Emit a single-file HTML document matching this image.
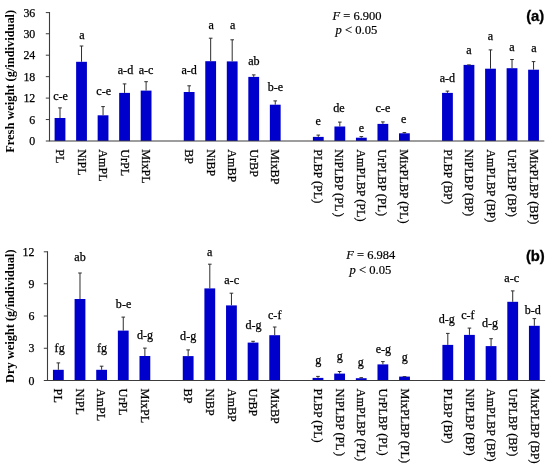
<!DOCTYPE html>
<html><head><meta charset="utf-8"><title>Figure</title>
<style>
html,body{margin:0;padding:0;background:#fff;}
svg{display:block}
.s{font-family:"Liberation Serif",serif;font-size:12.1px;fill:#000;stroke:#000;stroke-width:.25px}
.r{font-size:12.2px}
.k{font-size:11.9px}
.f{font-family:"Liberation Serif",serif;font-size:12.6px;fill:#000;stroke:#000;stroke-width:.2px}
.t{font-family:"Liberation Serif",serif;font-size:12.4px;font-weight:bold;fill:#000}
.g{font-family:"Liberation Sans",sans-serif;font-size:14.8px;font-weight:bold;fill:#000;stroke:#000;stroke-width:.3px}
</style></head><body>
<svg width="550" height="468" viewBox="0 0 550 468">
<rect width="550" height="468" fill="#fff"/>
<g>
<rect x="54.60" y="118.00" width="10.8" height="23.00" fill="#0000cc"/>
<path d="M60.00 118.00V107.90M58.20 107.90H61.80" stroke="#2e2e2e" stroke-width="1" fill="none"/>
<text x="60.60" y="100.00" text-anchor="middle" class="s">c-e</text>
<text transform="translate(56.20 149.20) rotate(90)" class="s r">PL</text>
<rect x="76.12" y="61.80" width="10.8" height="79.20" fill="#0000cc"/>
<path d="M81.53 61.80V46.00M79.73 46.00H83.33" stroke="#2e2e2e" stroke-width="1" fill="none"/>
<text x="81.93" y="38.70" text-anchor="middle" class="s">a</text>
<text transform="translate(77.73 149.20) rotate(90)" class="s r">NiPL</text>
<rect x="97.65" y="115.30" width="10.8" height="25.70" fill="#0000cc"/>
<path d="M103.05 115.30V106.60M101.25 106.60H104.85" stroke="#2e2e2e" stroke-width="1" fill="none"/>
<text x="103.65" y="95.10" text-anchor="middle" class="s">c-e</text>
<text transform="translate(99.25 149.20) rotate(90)" class="s r">AmPL</text>
<rect x="119.17" y="92.90" width="10.8" height="48.10" fill="#0000cc"/>
<path d="M124.57 92.90V83.90M122.77 83.90H126.37" stroke="#2e2e2e" stroke-width="1" fill="none"/>
<text x="125.47" y="74.10" text-anchor="middle" class="s">a-d</text>
<text transform="translate(120.77 149.20) rotate(90)" class="s r">UrPL</text>
<rect x="140.70" y="90.60" width="10.8" height="50.40" fill="#0000cc"/>
<path d="M146.10 90.60V81.70M144.30 81.70H147.90" stroke="#2e2e2e" stroke-width="1" fill="none"/>
<text x="146.10" y="74.10" text-anchor="middle" class="s">a-c</text>
<text transform="translate(142.30 149.20) rotate(90)" class="s r">MixPL</text>
<rect x="183.75" y="92.00" width="10.8" height="49.00" fill="#0000cc"/>
<path d="M189.15 92.00V85.80M187.35 85.80H190.95" stroke="#2e2e2e" stroke-width="1" fill="none"/>
<text x="189.15" y="74.10" text-anchor="middle" class="s">a-d</text>
<text transform="translate(185.35 149.20) rotate(90)" class="s r">BP</text>
<rect x="205.27" y="61.20" width="10.8" height="79.80" fill="#0000cc"/>
<path d="M210.67 61.20V38.20M208.87 38.20H212.47" stroke="#2e2e2e" stroke-width="1" fill="none"/>
<text x="211.07" y="29.00" text-anchor="middle" class="s">a</text>
<text transform="translate(206.87 149.20) rotate(90)" class="s r">NiBP</text>
<rect x="226.80" y="61.40" width="10.8" height="79.60" fill="#0000cc"/>
<path d="M232.20 61.40V39.80M230.40 39.80H234.00" stroke="#2e2e2e" stroke-width="1" fill="none"/>
<text x="232.70" y="29.00" text-anchor="middle" class="s">a</text>
<text transform="translate(228.40 149.20) rotate(90)" class="s r">AmBP</text>
<rect x="248.32" y="76.90" width="10.8" height="64.10" fill="#0000cc"/>
<path d="M253.72 76.90V74.90M251.92 74.90H255.53" stroke="#2e2e2e" stroke-width="1" fill="none"/>
<text x="253.92" y="65.40" text-anchor="middle" class="s">ab</text>
<text transform="translate(249.92 149.20) rotate(90)" class="s r">UrBP</text>
<rect x="269.85" y="104.70" width="10.8" height="36.30" fill="#0000cc"/>
<path d="M275.25 104.70V100.90M273.45 100.90H277.05" stroke="#2e2e2e" stroke-width="1" fill="none"/>
<text x="275.45" y="91.20" text-anchor="middle" class="s">b-e</text>
<text transform="translate(271.45 149.20) rotate(90)" class="s r">MixBP</text>
<rect x="312.90" y="136.90" width="10.8" height="4.10" fill="#0000cc"/>
<path d="M318.30 136.90V135.10M316.50 135.10H320.10" stroke="#2e2e2e" stroke-width="1" fill="none"/>
<text x="318.30" y="125.20" text-anchor="middle" class="s">e</text>
<text transform="translate(313.90 149.20) rotate(90)" class="s r">PLBP (PL)</text>
<rect x="334.43" y="126.50" width="10.8" height="14.50" fill="#0000cc"/>
<path d="M339.82 126.50V122.10M338.02 122.10H341.62" stroke="#2e2e2e" stroke-width="1" fill="none"/>
<text x="338.93" y="112.00" text-anchor="middle" class="s">de</text>
<text transform="translate(335.42 149.20) rotate(90)" class="s r">NiPLBP (PL<tspan dx="1.3">)</tspan></text>
<rect x="355.95" y="137.70" width="10.8" height="3.30" fill="#0000cc"/>
<path d="M361.35 137.70V136.60M359.55 136.60H363.15" stroke="#2e2e2e" stroke-width="1" fill="none"/>
<text x="361.35" y="131.80" text-anchor="middle" class="s">e</text>
<text transform="translate(356.95 149.20) rotate(90)" class="s r">AmPLBP (PL)</text>
<rect x="377.48" y="123.90" width="10.8" height="17.10" fill="#0000cc"/>
<path d="M382.88 123.90V121.90M381.07 121.90H384.68" stroke="#2e2e2e" stroke-width="1" fill="none"/>
<text x="382.88" y="112.00" text-anchor="middle" class="s">c-e</text>
<text transform="translate(378.47 149.20) rotate(90)" class="s r">UrPLBP (PL)</text>
<rect x="399.00" y="133.30" width="10.8" height="7.70" fill="#0000cc"/>
<path d="M404.40 133.30V132.60M402.60 132.60H406.20" stroke="#2e2e2e" stroke-width="1" fill="none"/>
<text x="403.70" y="122.90" text-anchor="middle" class="s">e</text>
<text transform="translate(400.00 149.20) rotate(90)" class="s r">MixPLBP (PL)</text>
<rect x="442.05" y="92.90" width="10.8" height="48.10" fill="#0000cc"/>
<path d="M447.45 92.90V91.10M445.65 91.10H449.25" stroke="#2e2e2e" stroke-width="1" fill="none"/>
<text x="447.45" y="81.70" text-anchor="middle" class="s">a-d</text>
<text transform="translate(443.65 149.20) rotate(90)" class="s r">PLBP (BP)</text>
<rect x="463.57" y="64.90" width="10.8" height="76.10" fill="#0000cc"/>
<path d="M468.97 64.90V64.90M467.17 64.90H470.77" stroke="#2e2e2e" stroke-width="1" fill="none"/>
<text x="468.97" y="54.10" text-anchor="middle" class="s">a</text>
<text transform="translate(465.17 149.20) rotate(90)" class="s r">NiPLBP (BP)</text>
<rect x="485.10" y="68.70" width="10.8" height="72.30" fill="#0000cc"/>
<path d="M490.50 68.70V49.90M488.70 49.90H492.30" stroke="#2e2e2e" stroke-width="1" fill="none"/>
<text x="490.50" y="39.90" text-anchor="middle" class="s">a</text>
<text transform="translate(486.70 149.20) rotate(90)" class="s r">AmPLBP (BP)</text>
<rect x="506.62" y="68.20" width="10.8" height="72.80" fill="#0000cc"/>
<path d="M512.02 68.20V59.50M510.22 59.50H513.82" stroke="#2e2e2e" stroke-width="1" fill="none"/>
<text x="512.02" y="50.90" text-anchor="middle" class="s">a</text>
<text transform="translate(508.22 149.20) rotate(90)" class="s r">UrPLBP (BP)</text>
<rect x="528.15" y="69.70" width="10.8" height="71.30" fill="#0000cc"/>
<path d="M533.55 69.70V61.60M531.75 61.60H535.35" stroke="#2e2e2e" stroke-width="1" fill="none"/>
<text x="533.95" y="51.70" text-anchor="middle" class="s">a</text>
<text transform="translate(529.75 149.20) rotate(90)" class="s r">MixPLBP (BP)</text>
<path d="M49.50 12.10V141.50M49.50 141.00H544.31" stroke="#3c3c3c" stroke-width="1.1" fill="none"/>
<path d="M45.80 141.00H49.50" stroke="#3c3c3c" stroke-width="1"/>
<text x="35.3" y="145.10" text-anchor="end" class="s k">0</text>
<path d="M45.80 119.55H49.50" stroke="#3c3c3c" stroke-width="1"/>
<text x="35.3" y="123.65" text-anchor="end" class="s k">6</text>
<path d="M45.80 98.10H49.50" stroke="#3c3c3c" stroke-width="1"/>
<text x="35.3" y="102.20" text-anchor="end" class="s k">12</text>
<path d="M45.80 76.65H49.50" stroke="#3c3c3c" stroke-width="1"/>
<text x="35.3" y="80.75" text-anchor="end" class="s k">18</text>
<path d="M45.80 55.20H49.50" stroke="#3c3c3c" stroke-width="1"/>
<text x="35.3" y="59.30" text-anchor="end" class="s k">24</text>
<path d="M45.80 33.75H49.50" stroke="#3c3c3c" stroke-width="1"/>
<text x="35.3" y="37.85" text-anchor="end" class="s k">30</text>
<path d="M45.80 12.60H49.50" stroke="#3c3c3c" stroke-width="1"/>
<text x="35.3" y="16.70" text-anchor="end" class="s k">36</text>
<text transform="translate(13.5 81.30) rotate(-90)" text-anchor="middle" class="t">Fresh weight (g/individual)</text>
<text x="526.2" y="21.2" class="g">(a)</text>
<text x="332.6" y="19.9" class="f" style="font-size:12.48px"><tspan font-style="italic">F</tspan> = 6.900</text>
<text x="335.6" y="33.9" class="f"><tspan font-style="italic">p</tspan> &lt; 0.05</text>
</g>
<g>
<rect x="52.95" y="369.80" width="10.8" height="10.70" fill="#0000cc"/>
<path d="M58.35 369.80V362.90M56.55 362.90H60.15" stroke="#2e2e2e" stroke-width="1" fill="none"/>
<text x="59.65" y="351.90" text-anchor="middle" class="s">fg</text>
<text transform="translate(54.15 388.60) rotate(90)" class="s r">PL</text>
<rect x="74.59" y="299.00" width="10.8" height="81.50" fill="#0000cc"/>
<path d="M79.99 299.00V273.00M78.19 273.00H81.79" stroke="#2e2e2e" stroke-width="1" fill="none"/>
<text x="79.99" y="260.80" text-anchor="middle" class="s">ab</text>
<text transform="translate(75.79 388.60) rotate(90)" class="s r">NiPL</text>
<rect x="96.22" y="369.80" width="10.8" height="10.70" fill="#0000cc"/>
<path d="M101.62 369.80V366.20M99.82 366.20H103.42" stroke="#2e2e2e" stroke-width="1" fill="none"/>
<text x="102.02" y="351.90" text-anchor="middle" class="s">fg</text>
<text transform="translate(97.42 388.60) rotate(90)" class="s r">AmPL</text>
<rect x="117.86" y="330.60" width="10.8" height="49.90" fill="#0000cc"/>
<path d="M123.26 330.60V317.10M121.46 317.10H125.06" stroke="#2e2e2e" stroke-width="1" fill="none"/>
<text x="123.56" y="307.90" text-anchor="middle" class="s">b-e</text>
<text transform="translate(119.06 388.60) rotate(90)" class="s r">UrPL</text>
<rect x="139.49" y="356.00" width="10.8" height="24.50" fill="#0000cc"/>
<path d="M144.89 356.00V348.10M143.09 348.10H146.69" stroke="#2e2e2e" stroke-width="1" fill="none"/>
<text x="145.09" y="339.20" text-anchor="middle" class="s">d-g</text>
<text transform="translate(140.69 388.60) rotate(90)" class="s r">MixPL</text>
<rect x="182.77" y="356.10" width="10.8" height="24.40" fill="#0000cc"/>
<path d="M188.17 356.10V349.90M186.37 349.90H189.97" stroke="#2e2e2e" stroke-width="1" fill="none"/>
<text x="188.17" y="339.80" text-anchor="middle" class="s">d-g</text>
<text transform="translate(184.37 388.60) rotate(90)" class="s r">BP</text>
<rect x="204.40" y="288.40" width="10.8" height="92.10" fill="#0000cc"/>
<path d="M209.80 288.40V264.20M208.00 264.20H211.60" stroke="#2e2e2e" stroke-width="1" fill="none"/>
<text x="209.80" y="256.30" text-anchor="middle" class="s">a</text>
<text transform="translate(206.00 388.60) rotate(90)" class="s r">NiBP</text>
<rect x="226.04" y="305.40" width="10.8" height="75.10" fill="#0000cc"/>
<path d="M231.44 305.40V293.20M229.64 293.20H233.24" stroke="#2e2e2e" stroke-width="1" fill="none"/>
<text x="231.64" y="284.00" text-anchor="middle" class="s">a-c</text>
<text transform="translate(227.64 388.60) rotate(90)" class="s r">AmBP</text>
<rect x="247.67" y="342.60" width="10.8" height="37.90" fill="#0000cc"/>
<path d="M253.07 342.60V341.30M251.27 341.30H254.87" stroke="#2e2e2e" stroke-width="1" fill="none"/>
<text x="253.57" y="329.10" text-anchor="middle" class="s">d-g</text>
<text transform="translate(249.27 388.60) rotate(90)" class="s r">UrBP</text>
<rect x="269.31" y="335.20" width="10.8" height="45.30" fill="#0000cc"/>
<path d="M274.71 335.20V327.00M272.91 327.00H276.51" stroke="#2e2e2e" stroke-width="1" fill="none"/>
<text x="274.71" y="318.90" text-anchor="middle" class="s">c-f</text>
<text transform="translate(270.91 388.60) rotate(90)" class="s r">MixBP</text>
<rect x="312.58" y="377.90" width="10.8" height="2.60" fill="#0000cc"/>
<path d="M317.98 377.90V376.40M316.18 376.40H319.78" stroke="#2e2e2e" stroke-width="1" fill="none"/>
<text x="318.18" y="363.70" text-anchor="middle" class="s">g</text>
<text transform="translate(314.18 388.60) rotate(90)" class="s r">PLBP (PL)</text>
<rect x="334.22" y="373.60" width="10.8" height="6.90" fill="#0000cc"/>
<path d="M339.62 373.60V371.50M337.82 371.50H341.42" stroke="#2e2e2e" stroke-width="1" fill="none"/>
<text x="339.82" y="359.60" text-anchor="middle" class="s">g</text>
<text transform="translate(335.82 388.60) rotate(90)" class="s r">NiPLBP (PL<tspan dx="1.3">)</tspan></text>
<rect x="355.85" y="378.20" width="10.8" height="2.30" fill="#0000cc"/>
<path d="M361.25 378.20V377.70M359.45 377.70H363.05" stroke="#2e2e2e" stroke-width="1" fill="none"/>
<text x="360.85" y="365.90" text-anchor="middle" class="s">g</text>
<text transform="translate(357.45 388.60) rotate(90)" class="s r">AmPLBP (PL)</text>
<rect x="377.49" y="364.40" width="10.8" height="16.10" fill="#0000cc"/>
<path d="M382.89 364.40V361.60M381.09 361.60H384.69" stroke="#2e2e2e" stroke-width="1" fill="none"/>
<text x="383.39" y="352.50" text-anchor="middle" class="s">e-g</text>
<text transform="translate(379.09 388.60) rotate(90)" class="s r">UrPLBP (PL)</text>
<rect x="399.13" y="376.60" width="10.8" height="3.90" fill="#0000cc"/>
<path d="M404.53 376.60V376.60M402.73 376.60H406.33" stroke="#2e2e2e" stroke-width="1" fill="none"/>
<text x="404.73" y="360.90" text-anchor="middle" class="s">g</text>
<text transform="translate(400.73 388.60) rotate(90)" class="s r">MixPLBP (PL)</text>
<rect x="442.40" y="344.90" width="10.8" height="35.60" fill="#0000cc"/>
<path d="M447.80 344.90V333.40M446.00 333.40H449.60" stroke="#2e2e2e" stroke-width="1" fill="none"/>
<text x="446.80" y="323.20" text-anchor="middle" class="s">d-g</text>
<text transform="translate(444.00 388.60) rotate(90)" class="s r">PLBP (BP)</text>
<rect x="464.03" y="334.90" width="10.8" height="45.60" fill="#0000cc"/>
<path d="M469.43 334.90V328.10M467.63 328.10H471.23" stroke="#2e2e2e" stroke-width="1" fill="none"/>
<text x="467.93" y="318.90" text-anchor="middle" class="s">c-f</text>
<text transform="translate(465.63 388.60) rotate(90)" class="s r">NiPLBP (BP)</text>
<rect x="485.67" y="346.10" width="10.8" height="34.40" fill="#0000cc"/>
<path d="M491.07 346.10V338.70M489.27 338.70H492.87" stroke="#2e2e2e" stroke-width="1" fill="none"/>
<text x="489.97" y="327.00" text-anchor="middle" class="s">d-g</text>
<text transform="translate(487.27 388.60) rotate(90)" class="s r">AmPLBP (BP)</text>
<rect x="507.31" y="301.80" width="10.8" height="78.70" fill="#0000cc"/>
<path d="M512.71 301.80V290.90M510.91 290.90H514.51" stroke="#2e2e2e" stroke-width="1" fill="none"/>
<text x="511.71" y="282.40" text-anchor="middle" class="s">a-c</text>
<text transform="translate(508.91 388.60) rotate(90)" class="s r">UrPLBP (BP)</text>
<rect x="528.94" y="325.80" width="10.8" height="54.70" fill="#0000cc"/>
<path d="M534.34 325.80V318.60M532.54 318.60H536.14" stroke="#2e2e2e" stroke-width="1" fill="none"/>
<text x="532.84" y="314.10" text-anchor="middle" class="s">b-d</text>
<text transform="translate(530.54 388.60) rotate(90)" class="s r">MixPLBP (BP)</text>
<path d="M47.50 251.30V381.00M47.50 380.50H545.16" stroke="#3c3c3c" stroke-width="1.1" fill="none"/>
<path d="M43.80 380.50H47.50" stroke="#3c3c3c" stroke-width="1"/>
<text x="34.4" y="384.60" text-anchor="end" class="s k">0</text>
<path d="M43.80 348.25H47.50" stroke="#3c3c3c" stroke-width="1"/>
<text x="34.4" y="352.35" text-anchor="end" class="s k">3</text>
<path d="M43.80 316.00H47.50" stroke="#3c3c3c" stroke-width="1"/>
<text x="34.4" y="320.10" text-anchor="end" class="s k">6</text>
<path d="M43.80 283.75H47.50" stroke="#3c3c3c" stroke-width="1"/>
<text x="34.4" y="287.85" text-anchor="end" class="s k">9</text>
<path d="M43.80 251.80H47.50" stroke="#3c3c3c" stroke-width="1"/>
<text x="34.4" y="255.90" text-anchor="end" class="s k">12</text>
<text transform="translate(13.5 316.20) rotate(-90)" text-anchor="middle" class="t">Dry weight (g/individual)</text>
<text x="525.9" y="260.5" class="g">(b)</text>
<text x="346.3" y="259.3" class="f" style="font-size:12.48px"><tspan font-style="italic">F</tspan> = 6.984</text>
<text x="349.6" y="273.6" class="f"><tspan font-style="italic">p</tspan> &lt; 0.05</text>
</g>
</svg>
</body></html>
